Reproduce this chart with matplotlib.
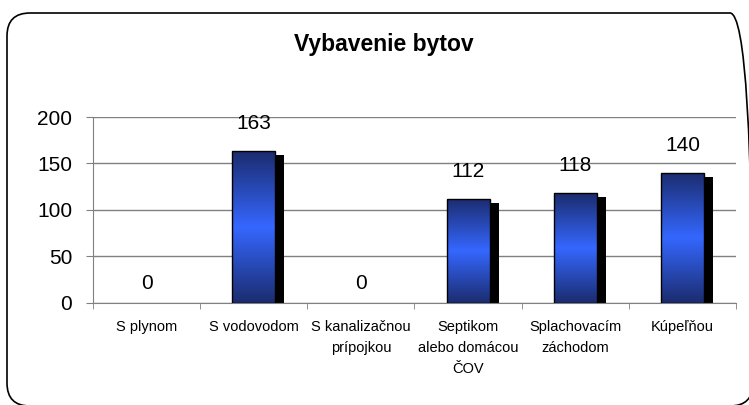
import numpy as np
import matplotlib
matplotlib.use("Agg")
import matplotlib.pyplot as plt
from matplotlib.patches import Rectangle, FancyBboxPatch
from matplotlib.colors import LinearSegmentedColormap

plt.rcParams["font.family"] = ["Liberation Sans", "DejaVu Sans"]

# Daten
kategorie = ["S plynom", "S vodovodom", "S kanalizačnou\nprípojkou",
             "Septikom\nalebo domácou\nČOV", "Splachovacím\nzáchodom", "Kúpeľňou"]
hodnoty = [0, 163, 0, 112, 118, 140]
y_ticks = [0, 50, 100, 150, 200]

fig = plt.figure(figsize=(7.49, 4.05), dpi=100)
ax = fig.add_axes([0.1242, 0.2519, 0.8584, 0.4592])

# ramik s oblymi rohmi
ramik = FancyBboxPatch((0.07, -0.01), 7.46, 3.93,
                       boxstyle="round,pad=0,rounding_size=0.23",
                       transform=fig.dpi_scale_trans, facecolor="none",
                       edgecolor="black", linewidth=1.2, clip_on=False)
fig.add_artist(ramik)

fig.text(0.512, 0.891, "Vybavenie bytov", ha="center", va="center",
         fontsize=16.5, fontweight="bold")

# gradient pre stlpce
cmap = LinearSegmentedColormap.from_list("modra", ["#1b2c6e", "#3567ff", "#1b2c6e"])
grad = np.linspace(0, 1, 256).reshape(-1, 1)

sirka = 0.40
dx, dy = 0.084, 4.3  # tien
for i, v in enumerate(hodnoty):
    if v <= 0:
        continue
    x0 = i - sirka / 2
    ax.add_patch(Rectangle((x0 + dx, 0), sirka, v - dy, facecolor="black",
                           edgecolor="none", zorder=2))
    rect = Rectangle((x0, 0), sirka, v, facecolor="none", edgecolor="none", zorder=3)
    ax.add_patch(rect)
    im = ax.imshow(grad, cmap=cmap, extent=[x0, x0 + sirka, 0, v],
                   aspect="auto", origin="upper", zorder=3)
    im.set_clip_path(rect)
    ax.add_patch(Rectangle((x0, 0), sirka, v, facecolor="none",
                           edgecolor="black", linewidth=1.0, zorder=4))

for i, v in enumerate(hodnoty):
    off = 14 if v == 0 else 20
    ax.annotate(str(v), (i, v), xytext=(0, off), textcoords="offset points",
                ha="center", va="center", fontsize=15)

ax.set_xlim(-0.5, len(hodnoty) - 0.5)
ax.set_ylim(0, 200)
ax.set_yticks(y_ticks)
ax.set_xticks(range(len(hodnoty)))
ax.set_xticklabels(kategorie, fontsize=10.5, linespacing=1.65)
ax.set_xticks(np.arange(-0.5, len(hodnoty)), minor=True)
ax.tick_params(axis="x", which="major", length=0, pad=12)
ax.tick_params(axis="x", which="minor", length=4, color="#808080", direction="out")
ax.tick_params(axis="y", length=5, color="#808080", pad=10, labelsize=15)

ax.grid(axis="y", color="#808080", linewidth=1.0, zorder=0.5)
ax.set_axisbelow(True)
for s in ["top", "right"]:
    ax.spines[s].set_visible(False)
for s in ["left", "bottom"]:
    ax.spines[s].set_color("#808080")

fig.savefig("out.png", dpi=100)
